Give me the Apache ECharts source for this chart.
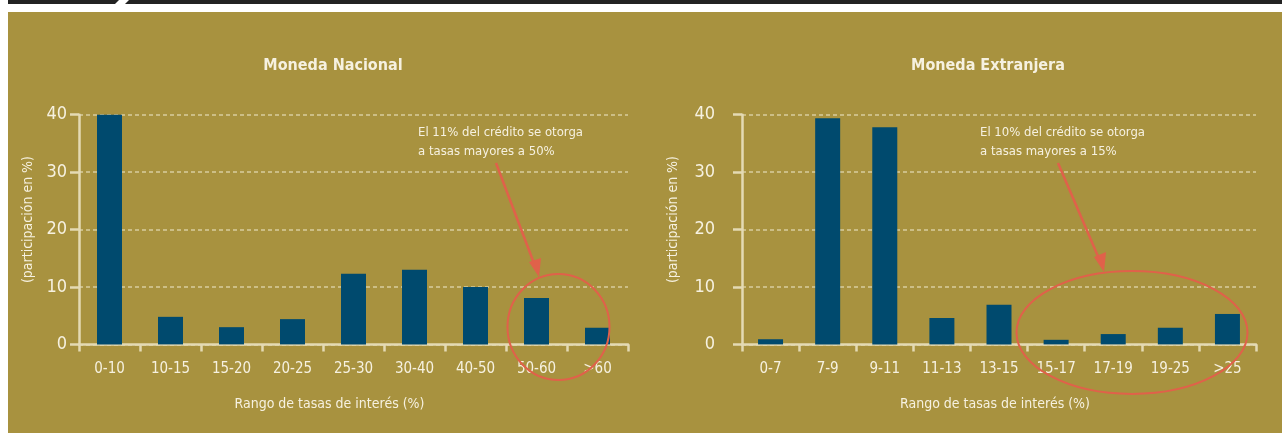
<!DOCTYPE html>
<html>
<head>
<meta charset="utf-8">
<script src="https://cdn.jsdelivr.net/npm/echarts@6/dist/echarts.min.js"></script>
<style>
html,body{margin:0;padding:0;background:#fff;}
#c{width:1282px;height:433px;}
</style>
</head>
<body>
<div id="c"></div>
<script>
const catsNac = ['0-10','10-15','15-20','20-25','25-30','30-40','40-50','50-60','>60'];
const valsNac = [40, 4.8, 3.0, 4.4, 12.3, 13.0, 10.0, 8.1, 2.9];
const catsExt = ['0-7','7-9','9-11','11-13','13-15','15-17','17-19','19-25','>25'];
const valsExt = [0.9, 39.4, 37.8, 4.6, 6.9, 0.8, 1.8, 2.9, 5.3];
const yTicks = [0, 10, 20, 30, 40];
const titleNac = 'Moneda Nacional';
const titleExt = 'Moneda Extranjera';
const yName = '(participación en %)';
const xName = 'Rango de tasas de interés (%)';
const noteNac = 'El 11% del crédito se otorga\na tasas mayores a 50%';
const noteExt = 'El 10% del crédito se otorga\na tasas mayores a 15%';

const FONT = "'Liberation Sans Narrow', 'DejaVu Sans Condensed', 'Roboto', sans-serif";
const GOLD = '#A8923F';
const BAR = '#004A6E';
const AXIS = '#E4DAB4';
const GRIDC = '#D8CD9F';
const TXT = '#F6F1E0';
const RED = '#E0614A';

function xAxisCfg(cats, idx, namePadRight) {
  return {
    type: 'category', gridIndex: idx, data: cats,
    axisLine: {lineStyle: {color: AXIS, width: 2.5}},
    axisTick: {show: true, length: 7, lineStyle: {color: AXIS, width: 2.5}},
    axisLabel: {color: TXT, fontFamily: FONT, fontSize: 15, margin: 17},
    name: xName, nameLocation: 'middle', nameGap: 53,
    nameTextStyle: {color: TXT, fontFamily: FONT, fontSize: 14, padding: [0, namePadRight, 0, 0]}
  };
}
function yAxisCfg(idx, labelMargin, nameGap) {
  return {
    type: 'value', gridIndex: idx, min: yTicks[0], max: yTicks[yTicks.length-1], interval: 10,
    axisLine: {show: true, lineStyle: {color: AXIS, width: 2.5}},
    axisTick: {show: true, length: 9, lineStyle: {color: AXIS, width: 2.5}},
    axisLabel: {color: TXT, fontFamily: FONT, fontSize: 18, margin: labelMargin},
    splitLine: {show: true, lineStyle: {color: GRIDC, type: [4, 3], width: 1.5}},
    name: yName, nameLocation: 'middle', nameGap: nameGap, nameRotate: 90,
    nameTextStyle: {color: TXT, fontFamily: FONT, fontSize: 14, padding: [0, 0, 0, 20]}
  };
}

const chart = echarts.init(document.getElementById('c'), null, {renderer: 'canvas'});
chart.setOption({
  backgroundColor: '#ffffff',
  animation: false,
  title: [
    {text: titleNac, left: 328, top: 53, textAlign: 'center',
     textStyle: {color: TXT, fontFamily: FONT, fontSize: 16, fontWeight: 'bold'}},
    {text: titleExt, left: 983, top: 53, textAlign: 'center',
     textStyle: {color: TXT, fontFamily: FONT, fontSize: 16, fontWeight: 'bold'}}
  ],
  grid: [
    {left: 79, top: 114.7, width: 549, height: 229.7},
    {left: 742, top: 114.7, width: 514, height: 229.7}
  ],
  xAxis: [xAxisCfg(catsNac, 0, 48), xAxisCfg(catsExt, 1, 8)],
  yAxis: [yAxisCfg(0, 12, 44), yAxisCfg(1, 27, 62)],
  series: [
    {type: 'bar', xAxisIndex: 0, yAxisIndex: 0, data: valsNac, barWidth: 25,
     itemStyle: {color: BAR}, z: 3},
    {type: 'bar', xAxisIndex: 1, yAxisIndex: 1, data: valsExt, barWidth: 25,
     itemStyle: {color: BAR}, z: 3}
  ],
  graphic: [
    {type: 'rect', z: -10, silent: true, shape: {x: 8, y: 12, width: 1274, height: 421}, style: {fill: GOLD}},
    {type: 'polygon', z: -10, silent: true, shape: {points: [[8,0],[119,0],[115,4],[8,4]]}, style: {fill: '#222222'}},
    {type: 'polygon', z: -10, silent: true, shape: {points: [[129,0],[1282,0],[1282,4],[125,4]]}, style: {fill: '#222222'}},
    {type: 'text', z: 10, style: {x: 418, y: 123, text: noteNac, fill: TXT, font: '13px ' + FONT, lineHeight: 19}},
    {type: 'text', z: 10, style: {x: 980, y: 123, text: noteExt, fill: TXT, font: '13px ' + FONT, lineHeight: 19}},
    {type: 'line', z: 10, shape: {x1: 496, y1: 163, x2: 535, y2: 266}, style: {stroke: RED, lineWidth: 2.5}},
    {type: 'polygon', z: 10, shape: {points: [[539,277],[529,262],[541,258]]}, style: {fill: RED}},
    {type: 'ellipse', z: 10, shape: {cx: 558.5, cy: 327, rx: 51, ry: 53}, style: {fill: null, stroke: RED, lineWidth: 2}},
    {type: 'line', z: 10, shape: {x1: 1058, y1: 163, x2: 1100, y2: 261}, style: {stroke: RED, lineWidth: 2.5}},
    {type: 'polygon', z: 10, shape: {points: [[1104,272],[1094,257],[1106,252]]}, style: {fill: RED}},
    {type: 'ellipse', z: 10, shape: {cx: 1132, cy: 332.5, rx: 115.5, ry: 61.5}, style: {fill: null, stroke: RED, lineWidth: 2}}
  ]
});
</script>
</body>
</html>
